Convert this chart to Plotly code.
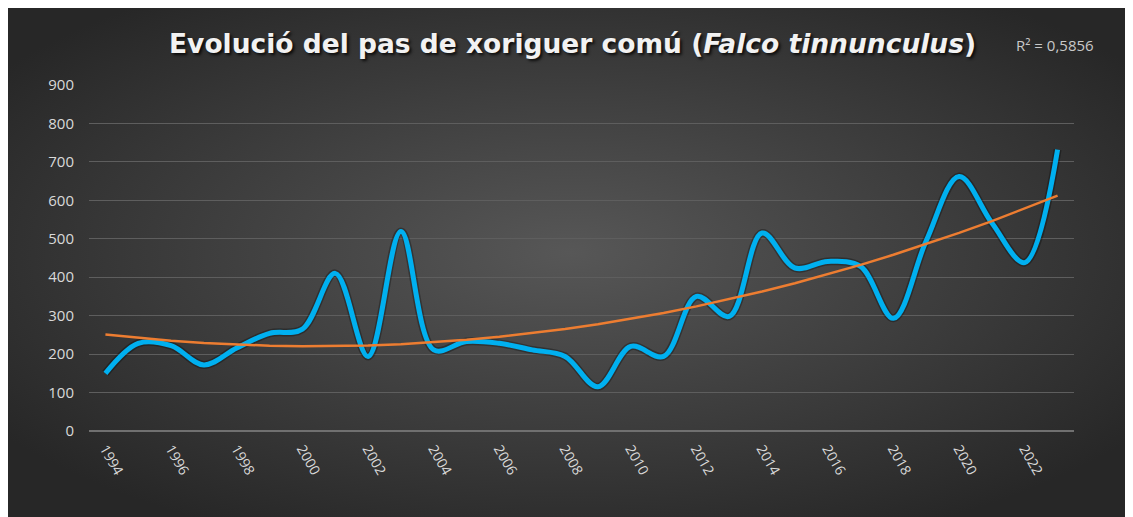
import base64
import numpy as np
import plotly.graph_objects as go

years = list(range(1994, 2024))
counts = [150, 228, 222, 172, 216, 254, 265, 410, 194, 519,
          211, 233, 228, 211, 194, 115, 220, 194, 350, 298,
          515, 424, 441, 428, 293, 495, 662, 541, 438, 732]
tick_years = list(range(1994, 2023, 2))
y_ticks = list(range(0, 901, 100))

title_text = "Evolució del pas de xoriguer comú (<i>Falco tinnunculus</i>)"
r2_text = "R² = 0,5856"

# polynomial (order 2) trendline, as in the original spreadsheet
xi = np.arange(1, len(years) + 1)
coef = np.polyfit(xi, counts, 2)
trend = np.polyval(coef, xi)

W, H = 1125, 509
L, R, T, B = 81, 59, 77, 86
pw, ph = W - L - R, H - T - B

# radial gradient background as inline SVG
svg = (
    f'<svg xmlns="http://www.w3.org/2000/svg" width="{W}" height="{H}" viewBox="0 0 {W} {H}" preserveAspectRatio="none">'
    '<defs><radialGradient id="g" cx="50%" cy="48%" r="62%">'
    '<stop offset="0" stop-color="#575757"/>'
    '<stop offset="1" stop-color="#272727"/>'
    '</radialGradient></defs>'
    f'<rect x="0" y="0" width="{W}" height="{H}" fill="url(#g)"/></svg>'
)
svg_uri = "data:image/svg+xml;base64," + base64.b64encode(svg.encode()).decode()


def px(xf):
    return (xf - L) / pw


def py(yf):
    return (T + ph - yf) / ph


fig = go.Figure()
fig.add_trace(go.Scatter(
    x=years, y=counts, mode="lines",
    line=dict(color="rgba(0,0,0,0.3)", width=8, shape="spline", smoothing=1),
    hoverinfo="skip", showlegend=False))
fig.add_trace(go.Scatter(
    x=years, y=counts, mode="lines",
    line=dict(color="#00b0f0", width=5, shape="spline", smoothing=1),
    name="Xoriguer comú", showlegend=False))
fig.add_trace(go.Scatter(
    x=years, y=trend, mode="lines",
    line=dict(color="#ed7d31", width=2.5),
    name="Tendència", showlegend=False))

fig.add_layout_image(dict(
    source=svg_uri, xref="paper", yref="paper",
    x=px(0), y=py(0), sizex=W / pw, sizey=H / ph,
    xanchor="left", yanchor="top", sizing="stretch", layer="below"))

fig.add_annotation(
    text=title_text, xref="paper", yref="paper",
    x=px(564), y=py(36), xanchor="center", yanchor="middle",
    showarrow=False,
    font=dict(family="DejaVu Sans", size=26.5, color="#f2f2f2", weight="bold",
              shadow="2px 2px 3px rgba(0,0,0,0.8)"))
fig.add_annotation(
    text=r2_text, xref="paper", yref="paper",
    x=px(1047), y=py(37), xanchor="center", yanchor="middle",
    showarrow=False,
    font=dict(family="Open Sans", size=15, color="#c8c8c8"))

fig.update_layout(
    width=W, height=H,
    margin=dict(l=L, r=R, t=T, b=B, pad=0),
    paper_bgcolor="#272727", plot_bgcolor="rgba(0,0,0,0)",
    showlegend=False,
    xaxis=dict(range=[1993.5, 2023.5], tickvals=tick_years,
               ticktext=[str(y) for y in tick_years], tickangle=60,
               showgrid=False, zeroline=False, showline=False, ticks="",
               tickfont=dict(family="Open Sans", size=14, color="#d9d9d9"),
               ticklabelstandoff=6),
    yaxis=dict(range=[0, 900], tickvals=y_ticks, showgrid=True,
               gridcolor="#5e5e5e", gridwidth=1,
               zeroline=True, zerolinecolor="#707070", zerolinewidth=2,
               showline=False, ticks="",
               tickfont=dict(family="Open Sans", size=15, color="#d9d9d9"),
               ticklabelstandoff=14),
)

fig.write_html("out.html")
